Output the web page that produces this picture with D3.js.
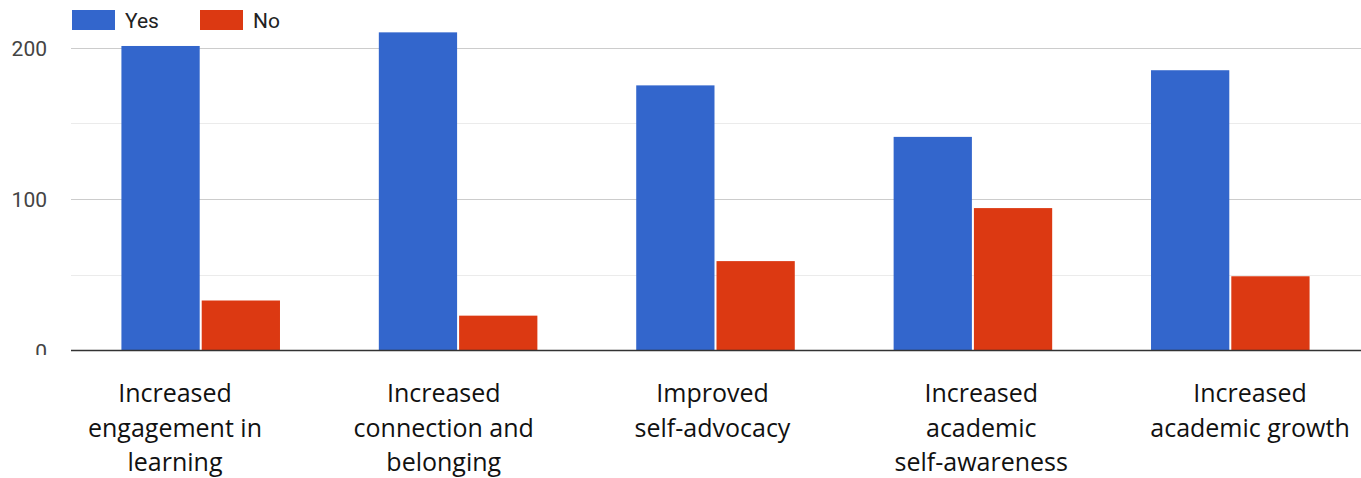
<!DOCTYPE html>
<html>
<head>
<meta charset="utf-8">
<script src="https://cdn.jsdelivr.net/npm/d3@7"></script>
<style>
  html, body { margin: 0; padding: 0; background: #fff; }
  svg { display: block; }
</style>
</head>
<body>
<svg id="chart" width="1361" height="478"></svg>
<script>
// Survey results: outcomes reported by respondents
const categories = [
  "Increased engagement in learning",
  "Increased connection and belonging",
  "Improved self-advocacy",
  "Increased academic self-awareness",
  "Increased academic growth"
];
const categoryLines = [
  ["Increased", "engagement in", "learning"],
  ["Increased", "connection and", "belonging"],
  ["Improved", "self-advocacy"],
  ["Increased", "academic", "self-awareness"],
  ["Increased", "academic growth"]
];
const seriesNames = ["Yes", "No"];
const yesValues = [201, 210, 175, 141, 185];
const noValues = [33, 23, 59, 94, 49];
const yTicks = [0, 100, 200];
const yMinorTicks = [50, 150];
const colors = { Yes: "#3366cc", No: "#dc3912" };

const svg = d3.select("#chart");

const y = d3.scaleLinear().domain([0, 200]).range([350.5, 47.5]);
const x0 = d3.scaleBand().domain(categories).range([72, 1359])
  .paddingInner(0.384).paddingOuter(0.192);
const x1 = d3.scaleBand().domain(seriesNames).range([0, x0.bandwidth()])
  .paddingInner(0.025);
const labelX = d3.scalePoint().domain(categories).range([175, 1250]);

// gridlines
svg.append("g").selectAll("line").data(yMinorTicks).join("line")
  .attr("x1", 71).attr("x2", 1361)
  .attr("y1", d => Math.round(y(d)) + 0.5).attr("y2", d => Math.round(y(d)) + 0.5)
  .attr("stroke", "#ebebeb").attr("stroke-width", 1.2);
svg.append("g").selectAll("line").data(yTicks.filter(d => d !== 0)).join("line")
  .attr("x1", 71).attr("x2", 1361)
  .attr("y1", d => Math.round(y(d)) + 0.5).attr("y2", d => Math.round(y(d)) + 0.5)
  .attr("stroke", "#cccccc").attr("stroke-width", 1.2);

// bars
const rows = categories.map((c, i) => ({ cat: c, Yes: yesValues[i], No: noValues[i] }));
const groups = svg.append("g").selectAll("g").data(rows).join("g")
  .attr("transform", d => `translate(${x0(d.cat)},0)`);
groups.selectAll("rect").data(d => seriesNames.map(k => ({ key: k, value: d[k] }))).join("rect")
  .attr("x", d => x1(d.key))
  .attr("width", x1.bandwidth())
  .attr("y", d => y(d.value))
  .attr("height", d => y(0) - y(d.value))
  .attr("fill", d => colors[d.key]);

// baseline
svg.append("line")
  .attr("x1", 71).attr("x2", 1361)
  .attr("y1", y(0)).attr("y2", y(0))
  .attr("stroke", "#333").attr("stroke-width", 1.6);

// y labels (the bottom one is partly hidden under the label band)
svg.append("defs").append("clipPath").attr("id", "yclip")
  .append("rect").attr("x", 0).attr("y", 0).attr("width", 70).attr("height", 355);
svg.append("g").attr("clip-path", "url(#yclip)")
  .selectAll("text").data(yTicks).join("text")
  .attr("x", 47).attr("y", d => y(d) + 8)
  .attr("text-anchor", "end")
  .attr("font-family", "Roboto, Arial, sans-serif")
  .attr("font-size", 21)
  .attr("fill", "#444")
  .text(d => d);

// legend
const legend = svg.append("g");
const legendX = [72, 200];
seriesNames.forEach((s, i) => {
  legend.append("rect")
    .attr("x", legendX[i]).attr("y", 10).attr("width", 43).attr("height", 20)
    .attr("fill", colors[s]);
  legend.append("text")
    .attr("x", legendX[i] + 53).attr("y", 28)
    .attr("font-family", "Roboto, Arial, sans-serif")
    .attr("font-size", 21)
    .attr("fill", "#222")
    .text(s);
});

// category labels
const lab = svg.append("g").selectAll("text").data(categories).join("text")
  .attr("text-anchor", "middle")
  .attr("font-family", "'Open Sans', sans-serif")
  .attr("font-size", 25)
  .attr("fill", "#111");
lab.each(function (c, i) {
  d3.select(this).selectAll("tspan").data(categoryLines[i]).join("tspan")
    .attr("x", labelX(c))
    .attr("y", (d, j) => 402 + j * 34.5)
    .text(d => d);
});
</script>
</body>
</html>
